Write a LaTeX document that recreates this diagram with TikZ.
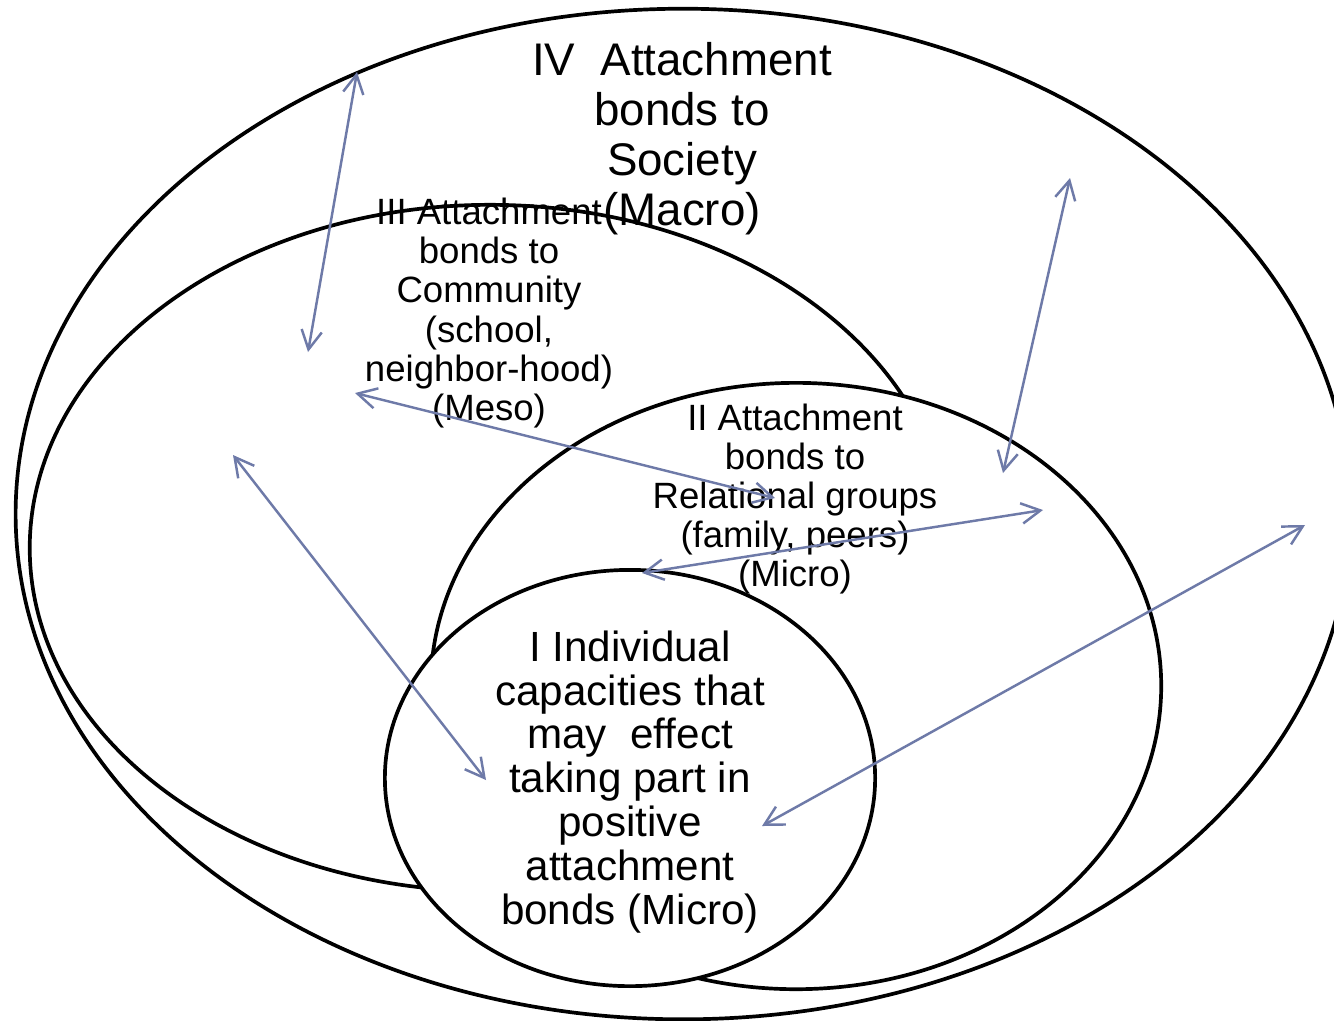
\documentclass[tikz,border=0pt]{standalone}
\usepackage{fontspec}
\setmainfont{Liberation Sans}
\usetikzlibrary{arrows.meta}

\begin{document}
\begin{tikzpicture}[x=0.01cm,y=-0.01cm]
  % Colors
  \definecolor{linkcolor}{RGB}{110,122,168}

  % Styles
  \tikzstyle{ring}=[line width=1.05pt,fill=white]
  \tikzstyle{link}=[draw=linkcolor,line width=0.7pt,{Straight Barb[length=5.4pt,width=5.8pt]}-{Straight Barb[length=5.4pt,width=5.8pt]}]
  \tikzstyle{level text}=[align=center,inner sep=0pt]

  % Frame
  \useasboundingbox (0,0) rectangle (1334,1020);
  \clip (0,0) rectangle (1334,1020);

  % The rings, outer one first
  \draw[ring] (683,514) ellipse [x radius=6.67cm, y radius=5.05cm];
  \draw[ring] (490,548) ellipse [x radius=4.6cm, y radius=3.43cm];
  \draw[ring] (796,686) ellipse [x radius=3.65cm, y radius=3.03cm];
  \draw[ring] (630,778) ellipse [x radius=2.45cm, y radius=2.08cm];

  % Texts
  \node[level text,font=\fontsize{13}{14.2}\selectfont] (society) at (682,139)
    {IV\ \ Attachment\\bonds to\\Society\\(Macro)};
  \node[level text,font=\fontsize{10.4}{11.1}\selectfont] (community) at (489,313)
    {III Attachment\\bonds to\\Community\\(school,\\neighbor-hood)\\(Meso)};
  \node[level text,font=\fontsize{10.4}{11.1}\selectfont] (groups) at (795,499)
    {II Attachment\\bonds to\\Relational groups\\(family, peers)\\(Micro)};
  \node[level text,font=\fontsize{12}{12.5}\selectfont] (individual) at (630,782)
    {I Individual\\capacities that\\may\ \ effect\\taking part in\\positive\\attachment\\bonds (Micro)};

  % Arrow ends
  \coordinate (s1) at (357,72);    \coordinate (c1) at (308,352);
  \coordinate (s2) at (1070,178);  \coordinate (g1) at (1003,473);
  \coordinate (c2) at (355,393);   \coordinate (g2) at (775,498);
  \coordinate (g3) at (1043,510);  \coordinate (i1) at (642,573);
  \coordinate (c3) at (233,455);   \coordinate (i2) at (486,780);
  \coordinate (s3) at (1305,525);  \coordinate (i3) at (762,826);

  % Arrows
  \draw[link] (s1) -- (c1);
  \draw[link] (s2) -- (g1);
  \draw[link] (c2) -- (g2);
  \draw[link] (g3) -- (i1);
  \draw[link] (c3) -- (i2);
  \draw[link] (s3) -- (i3);
\end{tikzpicture}
\end{document}
